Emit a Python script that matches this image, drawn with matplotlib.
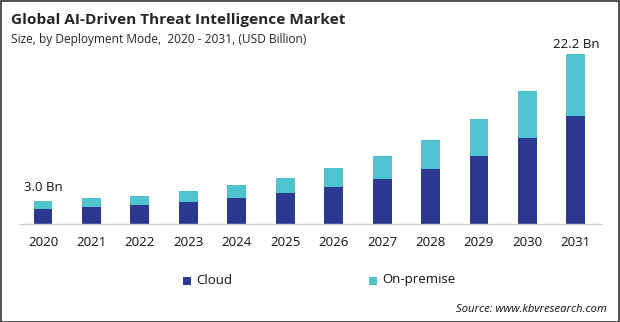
import matplotlib
matplotlib.use("Agg")
import matplotlib.pyplot as plt
from matplotlib.patches import Rectangle
import numpy as np

plt.rcParams['font.family'] = ['Open Sans', 'DejaVu Sans']

years = ["2020", "2021", "2022", "2023", "2024", "2025", "2026", "2027", "2028", "2029", "2030", "2031"]
cloud = [2.0, 2.22, 2.48, 2.87, 3.40, 4.05, 4.83, 5.88, 7.18, 8.88, 11.23, 14.1]
on_premise = [1.0, 1.18, 1.18, 1.44, 1.69, 1.96, 2.48, 3.0, 3.79, 4.83, 6.14, 8.1]
series_names = ["Cloud", "On-premise"]
first_label = "3.0 Bn"
last_label = "22.2 Bn"

navy = "#2b3990"
cyan = "#4fc4cf"

W, H = 620, 322
fig = plt.figure(figsize=(W / 100, H / 100), dpi=100)

ax_left = 20 / W
ax_right = 602 / W
ax_bottom = (H - 224) / H
ylim_top = 25.0
px_per_unit = 170 / 22.2
ax_h = ylim_top * px_per_unit / H
ax = fig.add_axes([ax_left, ax_bottom, ax_right - ax_left, ax_h])

x = np.arange(len(years))
bw = 0.39
ax.bar(x, cloud, width=bw, color=navy, label=series_names[0], zorder=2)
ax.bar(x, on_premise, width=bw, bottom=cloud, color=cyan, label=series_names[1], zorder=2)

ax.set_xlim(-0.475, 11.54)
ax.set_ylim(0, ylim_top)
ax.set_yticks([])
ax.set_xticks(x)
ax.set_xticklabels(years, fontsize=9.5, color="#111111")
ax.tick_params(axis='x', length=0, pad=9)
for s in ["top", "right", "left"]:
    ax.spines[s].set_visible(False)
ax.spines["bottom"].set_color("#d0d0d0")
ax.spines["bottom"].set_linewidth(1.0)

totals = [c + o for c, o in zip(cloud, on_premise)]
ax.annotate(first_label, (x[0], totals[0]), xytext=(0, 5), textcoords="offset points",
            ha="center", va="bottom", fontsize=9.5, color="#111111")
ax.annotate(last_label, (x[-1], totals[-1]), xytext=(0, 2), textcoords="offset points",
            ha="center", va="bottom", fontsize=9.5, color="#111111")

fig.text(11 / W, 1 - 20 / H, "Global AI-Driven Threat Intelligence Market",
         fontsize=11.1, fontweight="bold", color="#262626", ha="left", va="center")
fig.text(11 / W, 1 - 40 / H, "Size, by Deployment Mode,  2020 - 2031, (USD Billion)",
         fontsize=8.6, color="#262626", ha="left", va="center")

# legend
for (sx, tx, name, col) in [(183, 196, series_names[0], navy), (369, 382, series_names[1], cyan)]:
    fig.patches.append(Rectangle((sx / W, 1 - 285 / H), 8 / W, 8 / H,
                                 transform=fig.transFigure, facecolor=col, edgecolor="none"))
    fig.text(tx / W, 1 - 280 / H, name, fontsize=9.5, color="#111111", ha="left", va="center")

fig.text(607 / W, 1 - 309 / H, "Source: www.kbvresearch.com", fontsize=8.1,
         style="italic", color="#111111", ha="right", va="center")

fig.patches.append(Rectangle((0.5 / W, 0.5 / H), 1 - 1.5 / W, 1 - 1.5 / H,
                             transform=fig.transFigure, fill=False,
                             edgecolor="#333333", linewidth=1.2))

fig.savefig("out.png", dpi=100)
